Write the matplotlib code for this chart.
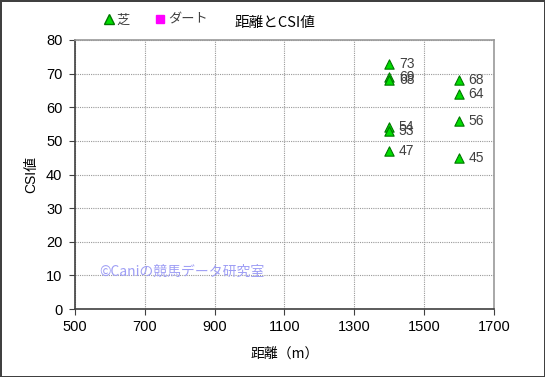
import numpy as np
import matplotlib
matplotlib.use('Agg')
import matplotlib.pyplot as plt
from matplotlib.lines import Line2D

plt.rcParams['font.family'] = ['Liberation Sans', 'Noto Sans CJK JP']

# data
turf_dist = [1400, 1400, 1400, 1400, 1400, 1400, 1600, 1600, 1600, 1600]
turf_csi = [73, 69, 68, 54, 53, 47, 68, 64, 56, 45]
dirt_dist = []
dirt_csi = []
x_ticks = [500, 700, 900, 1100, 1300, 1500, 1700]
y_ticks = [0, 10, 20, 30, 40, 50, 60, 70, 80]

fig = plt.figure(figsize=(5.45, 3.77), dpi=100)
fig.patch.set_edgecolor('#404040')
fig.patch.set_linewidth(2)
ax = fig.add_axes([0.1376, 0.180, 0.7684, 0.714])

ax.scatter(turf_dist, turf_csi, marker='^', s=45, color='#00dd00',
           edgecolors='#007700', linewidths=0.8, zorder=3)
ax.scatter(dirt_dist, dirt_csi, marker='s', s=40, color='#ff00ff', zorder=3)

for x, y in zip(turf_dist, turf_csi):
    ax.annotate(str(y), (x, y), xytext=(7, 0), textcoords='offset points',
                fontsize=10, color='#404040', va='center', ha='left', zorder=4)

ax.set_xlim(500, 1700)
ax.set_ylim(0, 80)
ax.set_xticks(x_ticks)
ax.set_yticks(y_ticks)
ax.tick_params(labelsize=10.5, length=4, color='#404040', direction='out', pad=4)
ax.tick_params(axis='y', pad=5)
ax.grid(True, color='#999999', linestyle=(0, (1, 1)), linewidth=0.8)
ax.set_axisbelow(True)
for s in ['left', 'bottom']:
    ax.spines[s].set_color('#404040')
    ax.spines[s].set_linewidth(1.2)
for s in ['top', 'right']:
    ax.spines[s].set_color('#999999')
    ax.spines[s].set_linewidth(1.2)

ax.set_xlabel('距離（m）', fontsize=10, labelpad=9, family=['Noto Sans CJK JP'])
ax.set_ylabel('CSI値', fontsize=10, labelpad=6)

ax.text(0.058, 0.14, '©Caniの競馬データ研究室', transform=ax.transAxes,
        fontsize=10, color='#9e9ef5', va='center', ha='left',
        family=['Noto Sans CJK JP'])

handles = [Line2D([], [], marker='^', linestyle='none', markersize=7,
                  markerfacecolor='#00dd00', markeredgecolor='#007700'),
           Line2D([], [], marker='s', linestyle='none', markersize=6,
                  markerfacecolor='#ff00ff', markeredgecolor='#ff00ff')]
fig.legend(handles, ['芝', 'ダート'], loc='center left', ncol=2,
           bbox_to_anchor=(0.168, 0.947), frameon=False,
           handlelength=0.8, handletextpad=0.2, columnspacing=1.9,
           labelcolor='#404040', prop={'family': ['Noto Sans CJK JP'], 'size': 9.5})

fig.text(0.505, 0.94, '距離とCSI値', fontsize=10.5, ha='center', va='center',
         family=['Noto Sans CJK JP'])

fig.savefig('out.png', dpi=100)
